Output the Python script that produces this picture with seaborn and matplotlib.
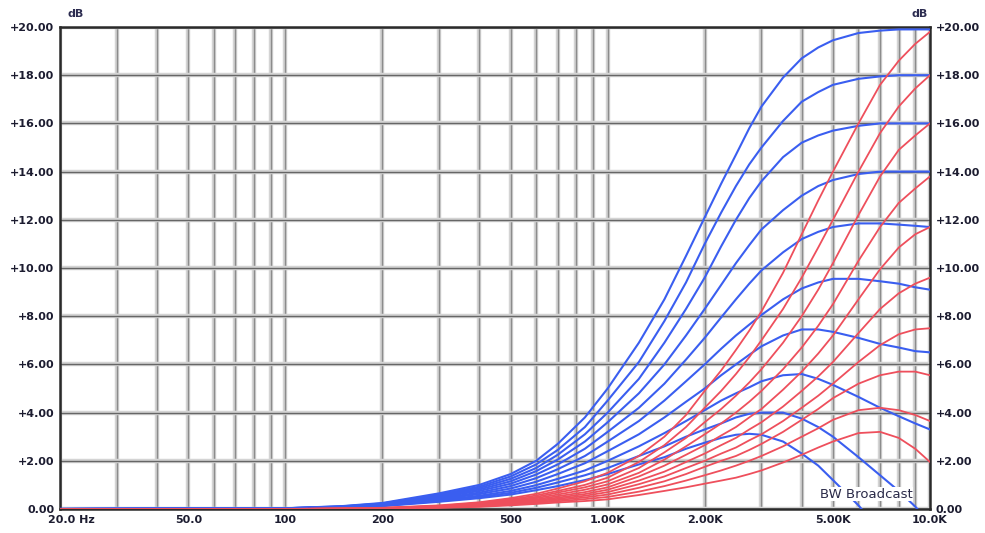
import seaborn as sns
import matplotlib.pyplot as plt
import matplotlib.transforms as mtransforms
import matplotlib.patheffects as pe
import pandas as pd

plt.switch_backend('Agg')

freqs = [20, 100, 150, 200, 300, 400, 500, 600, 700, 850, 1000, 1250, 1500, 1750,
         2000, 2250, 2500, 2750, 3000, 3500, 4000, 4500, 5000, 6000, 7000, 8000, 9000, 10000]

# blue family (dB)
blue_1 = [0, 0.03, 0.12, 0.25, 0.65, 1.0, 1.45, 2.0, 2.7, 3.8, 5.0, 6.9, 8.7, 10.5,
          12.1, 13.5, 14.7, 15.8, 16.7, 17.9, 18.7, 19.15, 19.45, 19.75, 19.85, 19.9, 19.9, 19.9]
blue_2 = [0, 0.03, 0.11, 0.23, 0.6, 0.93, 1.35, 1.85, 2.45, 3.4, 4.5, 6.1, 7.8, 9.4,
          11.0, 12.3, 13.4, 14.3, 15.0, 16.1, 16.9, 17.3, 17.6, 17.85, 17.95, 18.0, 18.0, 18.0]
blue_3 = [0, 0.03, 0.1, 0.22, 0.56, 0.87, 1.25, 1.7, 2.25, 3.1, 4.0, 5.4, 6.9, 8.3,
          9.6, 10.9, 12.0, 12.9, 13.6, 14.6, 15.2, 15.5, 15.7, 15.9, 16.0, 16.0, 16.0, 16.0]
blue_4 = [0, 0.03, 0.09, 0.2, 0.52, 0.81, 1.15, 1.57, 2.05, 2.8, 3.6, 4.8, 6.0, 7.2,
          8.3, 9.3, 10.2, 10.95, 11.6, 12.4, 13.0, 13.4, 13.65, 13.9, 14.0, 14.0, 14.0, 14.0]
blue_5 = [0, 0.02, 0.09, 0.19, 0.48, 0.75, 1.05, 1.43, 1.85, 2.5, 3.2, 4.2, 5.2, 6.2,
          7.1, 7.95, 8.7, 9.35, 9.9, 10.65, 11.2, 11.5, 11.7, 11.85, 11.85, 11.8, 11.75, 11.7]
blue_6 = [0, 0.02, 0.08, 0.17, 0.44, 0.68, 0.95, 1.28, 1.65, 2.2, 2.8, 3.65, 4.5, 5.3,
          6.0, 6.65, 7.2, 7.65, 8.05, 8.7, 9.15, 9.4, 9.55, 9.55, 9.45, 9.35, 9.2, 9.1]
blue_7 = [0, 0.02, 0.07, 0.16, 0.4, 0.62, 0.85, 1.13, 1.45, 1.9, 2.4, 3.1, 3.8, 4.45,
          5.0, 5.55, 6.0, 6.4, 6.75, 7.2, 7.45, 7.45, 7.35, 7.1, 6.85, 6.7, 6.55, 6.5]
blue_8 = [0, 0.02, 0.06, 0.14, 0.36, 0.55, 0.75, 0.99, 1.25, 1.6, 2.0, 2.6, 3.15, 3.65,
          4.1, 4.5, 4.8, 5.05, 5.3, 5.55, 5.6, 5.4, 5.15, 4.65, 4.2, 3.85, 3.55, 3.3]
blue_9 = [0, 0.02, 0.06, 0.13, 0.33, 0.5, 0.67, 0.88, 1.1, 1.4, 1.7, 2.2, 2.6, 3.0,
          3.3, 3.55, 3.8, 3.95, 4.0, 4.0, 3.75, 3.4, 3.0, 2.15, 1.4, 0.75, 0.1, -0.6]
blue_10 = [0, 0.02, 0.05, 0.12, 0.3, 0.45, 0.6, 0.78, 0.95, 1.2, 1.45, 1.85, 2.15, 2.5,
           2.75, 2.95, 3.08, 3.12, 3.08, 2.8, 2.3, 1.8, 1.2, 0.15, -0.9, -2.0, -3.0, -4.0]

# red family (dB)
red_1 = [0, 0, 0.02, 0.05, 0.15, 0.28, 0.45, 0.63, 0.85, 1.15, 1.5, 2.2, 3.0, 3.9,
         4.9, 5.75, 6.6, 7.4, 8.2, 9.8, 11.4, 12.8, 14.0, 16.0, 17.6, 18.6, 19.3, 19.8]
red_2 = [0, 0, 0.02, 0.04, 0.13, 0.25, 0.4, 0.56, 0.75, 1.0, 1.3, 1.95, 2.65, 3.4,
         4.2, 4.9, 5.6, 6.3, 7.0, 8.3, 9.6, 10.85, 12.0, 14.0, 15.6, 16.7, 17.45, 18.0]
red_3 = [0, 0, 0.02, 0.04, 0.12, 0.22, 0.36, 0.5, 0.68, 0.9, 1.15, 1.7, 2.35, 2.95,
         3.6, 4.15, 4.7, 5.25, 5.8, 6.9, 8.0, 9.1, 10.2, 12.2, 13.8, 14.9, 15.5, 16.0]
red_4 = [0, 0, 0.01, 0.03, 0.11, 0.2, 0.32, 0.45, 0.6, 0.8, 1.02, 1.5, 2.05, 2.6,
         3.1, 3.55, 4.0, 4.45, 4.9, 5.8, 6.7, 7.6, 8.5, 10.3, 11.7, 12.7, 13.3, 13.8]
red_5 = [0, 0, 0.01, 0.03, 0.1, 0.18, 0.29, 0.4, 0.53, 0.7, 0.9, 1.35, 1.8, 2.25,
         2.65, 3.05, 3.4, 3.8, 4.15, 4.95, 5.7, 6.45, 7.2, 8.7, 9.95, 10.85, 11.4, 11.7]
red_6 = [0, 0, 0.01, 0.03, 0.09, 0.16, 0.26, 0.36, 0.47, 0.62, 0.8, 1.18, 1.55, 1.95,
         2.3, 2.65, 2.95, 3.3, 3.6, 4.25, 4.9, 5.5, 6.1, 7.3, 8.3, 8.95, 9.35, 9.6]
red_7 = [0, 0, 0.01, 0.02, 0.08, 0.14, 0.23, 0.32, 0.42, 0.55, 0.7, 1.03, 1.35, 1.7,
         2.0, 2.3, 2.55, 2.85, 3.1, 3.65, 4.2, 4.7, 5.2, 6.1, 6.8, 7.25, 7.45, 7.5]
red_8 = [0, 0, 0.01, 0.02, 0.07, 0.12, 0.2, 0.28, 0.37, 0.48, 0.6, 0.88, 1.15, 1.45,
         1.75, 2.0, 2.2, 2.45, 2.7, 3.2, 3.7, 4.15, 4.6, 5.2, 5.55, 5.7, 5.7, 5.55]
red_9 = [0, 0, 0.01, 0.02, 0.06, 0.11, 0.18, 0.25, 0.32, 0.41, 0.5, 0.72, 0.95, 1.18,
         1.4, 1.6, 1.8, 2.0, 2.2, 2.6, 3.0, 3.35, 3.7, 4.1, 4.2, 4.1, 3.9, 3.65]
red_10 = [0, 0, 0.01, 0.02, 0.05, 0.09, 0.15, 0.21, 0.27, 0.33, 0.4, 0.58, 0.75, 0.9,
          1.05, 1.18, 1.3, 1.45, 1.6, 1.93, 2.25, 2.55, 2.8, 3.15, 3.2, 2.95, 2.5, 1.95]

x_ticks = [20, 50, 100, 200, 500, 1000, 2000, 5000, 10000]
x_tick_labels = ['20.0 Hz', '50.0', '100', '200', '500', '1.00K', '2.00K', '5.00K', '10.0K']
x_grid = [30, 40, 60, 70, 80, 90, 300, 400, 600, 700, 800, 900,
          3000, 4000, 6000, 7000, 8000, 9000]
y_ticks = [0, 2, 4, 6, 8, 10, 12, 14, 16, 18, 20]

BLUE = '#3a5ef0'
RED = '#ee4f5c'


def build_frame():
    blues = [blue_1, blue_2, blue_3, blue_4, blue_5, blue_6, blue_7, blue_8, blue_9, blue_10]
    reds = [red_1, red_2, red_3, red_4, red_5, red_6, red_7, red_8, red_9, red_10]
    rows = []
    for fam, series in (('blue', blues), ('red', reds)):
        for i, vals in enumerate(series):
            assert len(vals) == len(freqs)
            for f, v in zip(freqs, vals):
                rows.append({'freq': f, 'gain': v, 'curve': f'{fam}{i}', 'family': fam})
    return pd.DataFrame(rows)


df = build_frame()

sns.set_theme(style="white")
plt.rcParams['font.family'] = ['DejaVu Sans']

fig = plt.figure(figsize=(9.85, 5.33), dpi=100)
ax = fig.add_axes([60 / 985, 1 - 509 / 533, 870 / 985, 482 / 533])

pal = {c: (BLUE if c.startswith('blue') else RED) for c in df['curve'].unique()}
sns.lineplot(data=df[df.family == 'blue'], x='freq', y='gain', hue='curve',
             palette=pal, legend=False, linewidth=1.5, estimator=None,
             sort=False, ax=ax, zorder=3)
sns.lineplot(data=df[df.family == 'red'], x='freq', y='gain', hue='curve',
             palette=pal, legend=False, linewidth=1.3, estimator=None,
             sort=False, ax=ax, zorder=3)

ax.set_xscale('log')
ax.set_xlim(20, 10000)
ax.set_ylim(0, 20)
ax.set_xticks(x_ticks)
ax.set_xticklabels(x_tick_labels)
ax.set_xticks(x_grid, minor=True)
ax.set_xticklabels([], minor=True)
ax.set_yticks(y_ticks)
ax.set_yticklabels(['0.00' if v == 0 else f'+{v:.2f}' for v in y_ticks])

# grid: dark thin core with a soft light halo, like the original
ax.grid(which='both', axis='x', color='#8c8c8c', linewidth=1.0, zorder=1)
ax.grid(which='major', axis='y', color='#666666', linewidth=1.0, zorder=1)
halo = [pe.Stroke(linewidth=3.2, foreground='#d4d4d4'), pe.Normal()]
for gl in ax.get_xgridlines() + ax.get_ygridlines():
    gl.set_path_effects(halo)
for tick in ax.xaxis.get_minor_ticks():
    tick.gridline.set_path_effects(halo)
ax.set_axisbelow(True)

ax.tick_params(axis='both', which='both', length=0, labelsize=8, labelcolor='#1c1c30')
ax.tick_params(axis='y', labelright=True, pad=4)
ax.tick_params(axis='x', pad=4)
for lab in ax.get_xticklabels() + ax.get_yticklabels():
    lab.set_fontweight('bold')

# first frequency label sits to the right of the axis corner
first = ax.get_xticklabels()[0]
first.set_horizontalalignment('left')
first.set_transform(first.get_transform() + mtransforms.ScaledTranslation(-0.12, 0, fig.dpi_scale_trans))

for side in ['left', 'bottom', 'top', 'right']:
    ax.spines[side].set_color('#2a2a2a')
    ax.spines[side].set_linewidth(1.8)

ax.set_xlabel('')
ax.set_ylabel('')

fig.text(67 / 985, 1 - 14 / 533, 'dB', fontsize=8, fontweight='bold', color='#2c2c50',
         ha='left', va='center')
fig.text(928 / 985, 1 - 14 / 533, 'dB', fontsize=8, fontweight='bold', color='#2c2c50',
         ha='right', va='center')
fig.text(866 / 985, 1 - 494 / 533, 'BW Broadcast', fontsize=9.5, color='#2a2a48',
         ha='center', va='center',
         bbox=dict(facecolor='white', edgecolor='none', pad=0.5))

fig.savefig('out.png', dpi=100)
plt.close(fig)
